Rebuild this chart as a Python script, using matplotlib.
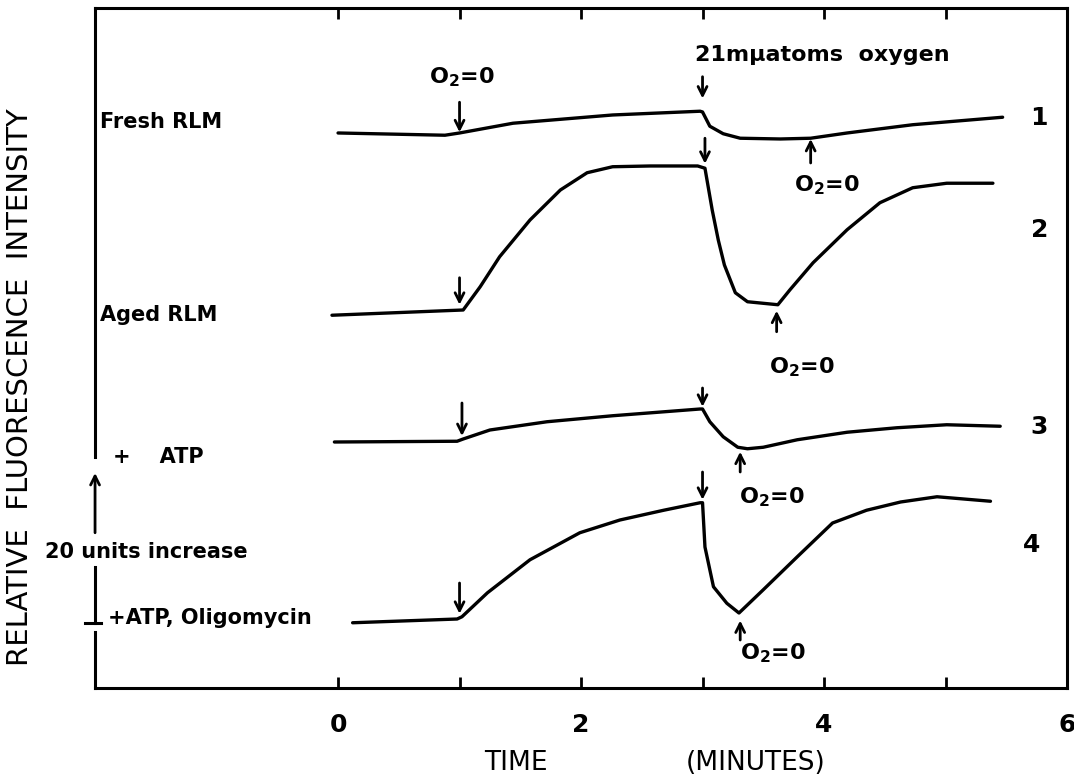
import matplotlib
matplotlib.use("Agg")
import matplotlib.pyplot as plt

plt.rcParams['font.family'] = ['DejaVu Sans']
plt.rcParams['mathtext.default'] = 'regular'

# time in minutes, fluorescence in arbitrary units (20 units = scale bar)
t1 = [0, 0.88, 1.0, 1.44, 2.26, 2.98, 3.0, 3.06, 3.17, 3.31, 3.64, 3.89, 4.19, 4.73, 5.47]
f1 = [74.0, 73.7, 74.0, 75.3, 76.4, 76.9, 76.8, 74.9, 73.9, 73.3, 73.2, 73.3, 74.0, 75.1, 76.1]

t2 = [-0.05, 1.03, 1.17, 1.33, 1.58, 1.83, 2.05, 2.26, 2.57, 2.96, 3.02, 3.08, 3.13, 3.18,
      3.27, 3.37, 3.62, 3.72, 3.91, 4.19, 4.46, 4.73, 5.01, 5.39]
f2 = [49.7, 50.4, 53.5, 57.5, 62.4, 66.4, 68.7, 69.5, 69.6, 69.6, 69.3, 63.7, 59.7, 56.4,
      52.7, 51.5, 51.1, 53.1, 56.7, 61.1, 64.7, 66.7, 67.3, 67.3]

t3 = [-0.03, 0.98, 1.03, 1.25, 1.72, 2.26, 2.98, 3.0, 3.06, 3.17, 3.29, 3.37, 3.50, 3.78,
      4.19, 4.60, 5.01, 5.45]
f3 = [32.8, 32.9, 33.2, 34.4, 35.5, 36.3, 37.2, 37.2, 35.5, 33.5, 32.1, 31.9, 32.1, 33.1,
      34.1, 34.7, 35.1, 34.9]

t4 = [0.12, 0.98, 1.02, 1.23, 1.58, 1.99, 2.32, 2.68, 2.98, 3.0, 3.02, 3.09, 3.20, 3.30,
      3.50, 3.78, 4.07, 4.35, 4.63, 4.93, 5.37]
f4 = [8.7, 9.2, 9.5, 12.7, 17.1, 20.7, 22.4, 23.7, 24.7, 24.7, 18.8, 13.5, 11.3, 10.0,
      13.1, 17.5, 22.0, 23.7, 24.8, 25.5, 24.9]

traces = [(t1, f1), (t2, f2), (t3, f3), (t4, f4)]
trace_ids = ['1', '2', '3', '4']
id_pos = [(5.70, 76.0), (5.70, 61.1), (5.70, 34.8), (5.64, 19.1)]

# arrows: (x, y_start, y_end) -> down arrows for additions, up arrows for O2=0
down_arrows = [(1.0, 78.1, 74.1), (3.0, 81.5, 78.6), (1.0, 54.7, 51.1), (3.02, 73.3, 69.9),
               (1.02, 38.0, 33.6), (3.0, 40.0, 37.5), (1.0, 14.0, 9.9), (3.0, 28.8, 25.1)]
up_arrows = [(3.89, 70.0, 73.2), (3.61, 47.5, 50.3), (3.31, 28.8, 31.5), (3.31, 6.4, 9.0)]
o2_labels = [(1.02, 81.5), (4.02, 67.1), (3.82, 42.8), (3.57, 25.5), (3.58, 4.7)]

left_labels = ['Fresh RLM', 'Aged RLM', '+    ATP', '+ATP, Oligomycin']
left_pos = [(-1.96, 75.5), (-1.96, 49.7), (-1.85, 30.8), (-1.89, 9.3)]

scale_bottom = 8.67
scale_units = 20

fig = plt.figure(figsize=(10.74, 7.79), dpi=100)
ax = fig.add_axes([0.0885, 0.1168, 0.905, 0.873])

for t, f in traces:
    ax.plot(t, f, color='black', lw=2.4, solid_capstyle='round', solid_joinstyle='round')

for x, y0, y1 in down_arrows + up_arrows:
    ax.annotate('', xy=(x, y1), xytext=(x, y0),
                arrowprops=dict(arrowstyle='->', lw=2.0, color='black', mutation_scale=16,
                                shrinkA=0, shrinkB=0))

for x, y in o2_labels:
    ax.text(x, y, 'O$_2$=0', ha='center', va='center', fontsize=16, fontweight='bold')

ax.text(2.94, 84.4, '21mμatoms  oxygen', ha='left', va='center', fontsize=16,
        fontweight='bold')

for s, (x, y) in zip(left_labels, left_pos):
    ax.text(x, y, s, ha='left', va='center', fontsize=15, fontweight='bold')

for s, (x, y) in zip(trace_ids, id_pos):
    ax.text(x, y, s, ha='left', va='center', fontsize=18, fontweight='bold')

# left spine doubles as the 20-unit scale bar
ax.spines['left'].set_visible(False)
kw = dict(color='black', lw=2.2, clip_on=False)
ax.plot([-2, -2], [30.8, 90.67], **kw)
ax.plot([-2, -2], [0, scale_bottom - 1.2], **kw)
ax.plot([-2, -2], [scale_bottom, 16.1], **kw)
ax.plot([-2.08, -1.95], [scale_bottom, scale_bottom], **kw)
ax.annotate('', xy=(-2, scale_bottom + scale_units), xytext=(-2, 20.7),
            arrowprops=dict(arrowstyle='->', lw=2.0, color='black', mutation_scale=16,
                            shrinkA=0, shrinkB=0), annotation_clip=False)
ax.text(-2.41, 18.1, '20 units increase', ha='left', va='center', fontsize=15,
        fontweight='bold', clip_on=False)

for sp in ['top', 'bottom', 'right']:
    ax.spines[sp].set_linewidth(2.2)

ax.set_xlim(-2, 6)
ax.set_ylim(0, 90.67)
ax.set_xticks([0, 2, 4, 6])
ax.set_xticks([1, 3, 5], minor=True)
ax.tick_params(axis='x', which='both', direction='in', top=True, bottom=True,
               length=8, width=2, labelsize=18, pad=18)
for lab in ax.get_xticklabels():
    lab.set_fontweight('bold')
ax.set_yticks([])

ax.text(-0.077, 0.443, 'RELATIVE  FLUORESCENCE  INTENSITY', transform=ax.transAxes,
        rotation=90, ha='center', va='center', fontsize=21)
ax.annotate('TIME', xy=(1.46, 0), xycoords='data', xytext=(0, -75), textcoords='offset pixels',
            ha='center', va='center', fontsize=19)
ax.annotate('(MINUTES)', xy=(3.44, 0), xycoords='data', xytext=(0, -75), textcoords='offset pixels',
            ha='center', va='center', fontsize=19)

fig.savefig('out.png', dpi=100)
